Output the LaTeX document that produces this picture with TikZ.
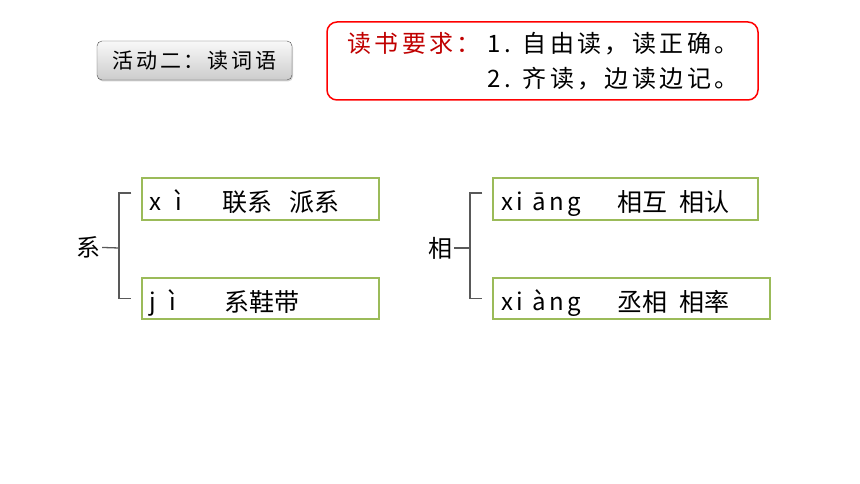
\documentclass[tikz,border=0pt]{standalone}
\usepackage{fontspec}
\setmainfont{Noto Sans CJK SC}
\newfontfamily\spaced[LetterSpace=14]{Noto Sans CJK SC}
\usetikzlibrary{positioning,shadows}
\definecolor{boxgreen}{RGB}{155,187,89}
\definecolor{reqred}{RGB}{192,0,0}
\definecolor{linegray}{RGB}{89,89,89}

\begin{document}
\begin{tikzpicture}[x=1pt,y=-1pt,
  title/.style={draw=gray!60!black,rounded corners=5pt,top color=gray!5,bottom color=gray!40,
    drop shadow={opacity=0.35,shadow xshift=1pt,shadow yshift=-1.5pt},
    minimum width=195pt,minimum height=39pt,inner sep=0pt,font=\fontsize{21}{21}\spaced},
  reqframe/.style={draw=red,line width=1.5pt,rounded corners=10pt,minimum width=431pt,minimum height=78pt},
  reqtext/.style={inner sep=0pt,font=\fontsize{24}{35}\spaced},
  wordbox/.style={draw=boxgreen,line width=1.2pt,minimum height=42pt,inner sep=0pt},
  pinyin/.style={inner sep=0pt,text height=24pt,text depth=0pt,font=\fontsize{24}{24}\spaced},
  words/.style={inner sep=0pt,text height=25pt,text depth=0pt,font=\fontsize{25}{25}\selectfont},
  root/.style={inner sep=2pt,font=\fontsize{24}{24}\selectfont},
  bracket/.style={draw=linegray,line width=1.3pt}]

\useasboundingbox (0,0) rectangle (860,484);

% title and reading rules
\node[title]    (act)   at (194.5,60.5)   {活动二：读词语};
\node[reqframe] (req)   at (542.5,61)     {};
\node[reqtext]  (reqtxt)[right=21pt of req.west,yshift=-2.5pt]
  {\begin{tabular}{@{}r@{}l@{}}\textcolor{reqred}{读书要求：}&\hspace{7pt}1. 自由读，读正确。\\&\hspace{7pt}2. 齐读，边读边记。\end{tabular}};

% xi
\node[root]    (xi)      at (88,247)            {系};
\node[wordbox,minimum width=237pt] (xiTop) at (260.5,199)   {};
\node[wordbox,minimum width=237pt,minimum height=41pt] (xiBot) at (260.5,298.5) {};
\node[pinyin]  (xiTopPy) [right=8pt of xiTop.west]   {x\hspace{5pt} ì};
\node[words]   (xiTopW)  [right=81pt of xiTop.west]  {联系\hspace{17pt}派系};
\node[pinyin]  (xiBotPy) [right=8pt of xiBot.west]   {j\hspace{5pt} ì};
\node[words]   (xiBotW)  [right=83pt of xiBot.west]  {系鞋带};

% xiang
\node[root]    (xiang)   at (440,248)           {相};
\node[wordbox,minimum width=265pt] (xiangTop) at (625.5,199) {};
\node[wordbox,minimum width=277pt,minimum height=41pt] (xiangBot) at (631.5,298.5) {};
\node[pinyin]  (xiangTopPy) [right=9pt of xiangTop.west]   {xi āng};
\node[words]   (xiangTopW)  [right=125pt of xiangTop.west] {相互\hspace{12pt}相认};
\node[pinyin]  (xiangBotPy) [right=9pt of xiangBot.west]   {xi àng};
\node[words]   (xiangBotW)  [right=125pt of xiangBot.west] {丞相\hspace{12pt}相率};

\coordinate (xiFork)    at (119,248);
\coordinate (xiangFork) at (470,248);

\draw[bracket] (xi) -- (xiFork);
\draw[bracket] ([xshift=-10pt,yshift=6pt]xiTop.west) -| (xiFork) |- ([xshift=-10pt]xiBot.west);
\draw[bracket] (xiang) -- (xiangFork);
\draw[bracket] ([xshift=-10pt,yshift=6pt]xiangTop.west) -| (xiangFork) |- ([xshift=-10pt]xiangBot.west);

\end{tikzpicture}
\end{document}
